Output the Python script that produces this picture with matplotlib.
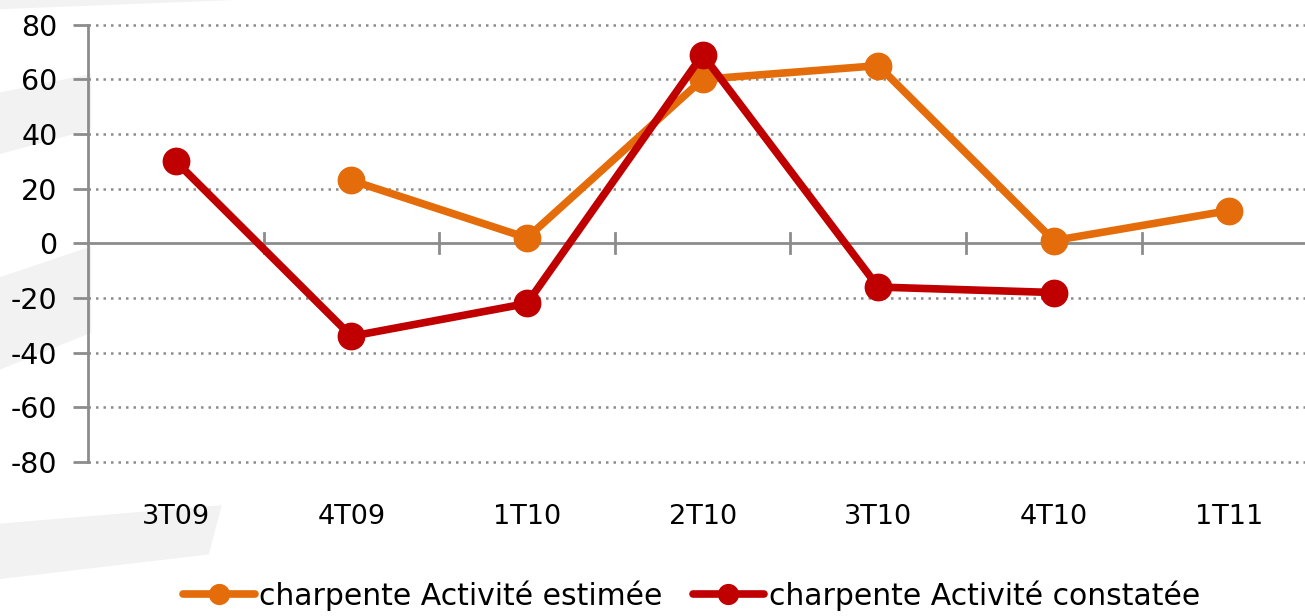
import numpy as np
import matplotlib
matplotlib.use("Agg")
import matplotlib.pyplot as plt
from matplotlib.patches import Polygon

# ------------------------------------------------------------------ data
quarters = ["3T09", "4T09", "1T10", "2T10", "3T10", "4T10", "1T11"]
estimee = [np.nan, 23, 2, 60, 65, 1, 12]
constatee = [30, -34, -22, 69, -16, -18, np.nan]
label_estimee = "charpente Activité estimée"
label_constatee = "charpente Activité constatée"
y_ticks = [-80, -60, -40, -20, 0, 20, 40, 60, 80]

ORANGE = "#E46C0A"
RED = "#C00000"
AXGRAY = "#8C8C8C"
SWOOSH = "#F2F2F2"

plt.rcParams.update({
    "font.family": ["DejaVu Sans"],
    "font.size": 19,
    "axes.unicode_minus": False,
})

fig = plt.figure(figsize=(13.05, 6.16), dpi=100)

# faint background swooshes, drawn in a full-figure axes behind the chart
bg = fig.add_axes([0, 0, 1, 1], zorder=-10)
bg.set_xlim(0, 1)
bg.set_ylim(0, 1)
bg.axis("off")
for pts in [
    [(0.0, 0.985), (0.18, 1.0), (0.0, 1.0)],
    [(0.0, 0.75), (0.07, 0.79), (0.07, 0.88), (0.0, 0.85)],
    [(0.0, 0.40), (0.07, 0.46), (0.07, 0.60), (0.0, 0.55)],
    [(0.0, 0.15), (0.17, 0.18), (0.16, 0.10), (0.0, 0.06)],
]:
    bg.add_patch(Polygon(pts, closed=True, fc=SWOOSH, ec="none"))

ax = fig.add_axes([0.0674, 0.25, 0.9326, 0.71])
ax.patch.set_alpha(0)

x = np.arange(len(quarters))
ax.plot(x, estimee, color=ORANGE, lw=5.5, marker="o", ms=19,
        solid_capstyle="round", label=label_estimee, zorder=4)
ax.plot(x, constatee, color=RED, lw=5.5, marker="o", ms=19,
        solid_capstyle="round", label=label_constatee, zorder=5)

ax.set_ylim(-80, 80)
ax.set_xlim(-0.5, len(quarters) - 0.57)
ax.set_yticks(y_ticks)

# dotted grid except at zero (the zero line is the category axis)
for v in y_ticks:
    if v != 0:
        ax.axhline(v, color=AXGRAY, lw=1.8, ls=(0, (1, 2.0)), zorder=1,
                   clip_on=False)
ax.axhline(0, color=AXGRAY, lw=2, zorder=2)

# category boundary ticks crossing the zero line
for b in x[:-1] + 0.5:
    ax.plot([b, b], [-3.7, 3.7], color=AXGRAY, lw=2, zorder=2)

for s in ["top", "right", "bottom"]:
    ax.spines[s].set_visible(False)
ax.spines["left"].set_color(AXGRAY)
ax.spines["left"].set_linewidth(2)
ax.tick_params(axis="y", length=11, width=2, color=AXGRAY, pad=11,
               labelsize=20.5)
ax.set_xticks(x)
ax.set_xticklabels(quarters)
ax.tick_params(axis="x", length=0, pad=30, labelsize=19.5)

fig.legend(loc="lower center", bbox_to_anchor=(0.53, -0.035), ncol=2,
           frameon=False, fontsize=21.5, handlelength=2.4, handletextpad=0.15,
           columnspacing=1.0, markerscale=0.75)

fig.savefig("out.png", dpi=100)
